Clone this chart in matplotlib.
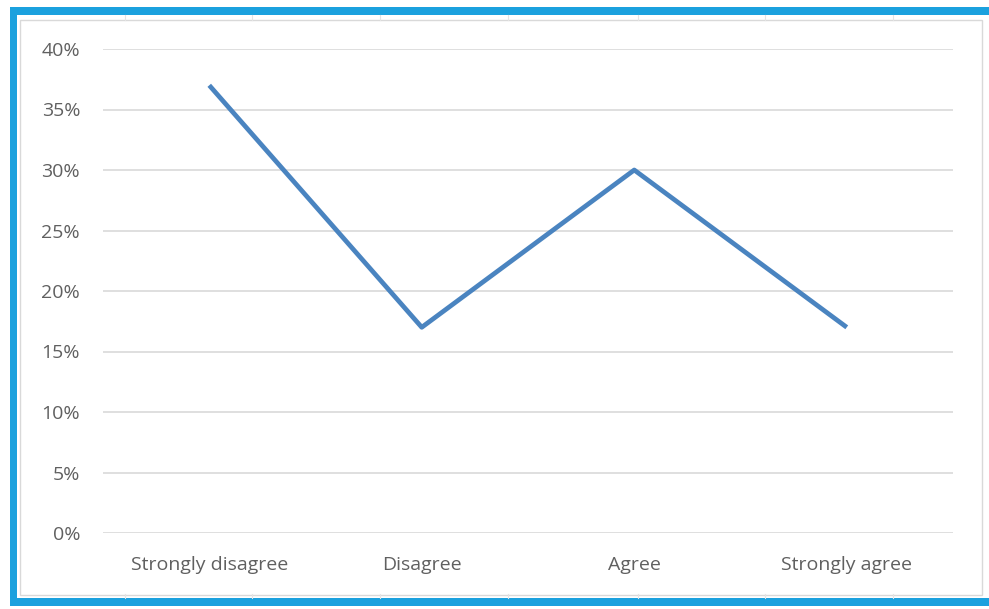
import matplotlib.pyplot as plt
from matplotlib.patches import Rectangle
from matplotlib.lines import Line2D
from matplotlib.ticker import PercentFormatter

categories = ["Strongly disagree", "Disagree", "Agree", "Strongly agree"]
shares = [0.37, 0.17, 0.30, 0.17]
y_ticks = [0.0, 0.05, 0.10, 0.15, 0.20, 0.25, 0.30, 0.35, 0.40]

plt.rcParams['font.family'] = ['Open Sans', 'DejaVu Sans']

fig = plt.figure(figsize=(9.89, 6.09), dpi=100)
W, H = 989, 609

# sheet cell lines peeking around the chart object
for x in [125, 252, 380, 508, 638, 765, 893]:
    fig.add_artist(Line2D([x / W, x / W], [1 - 20 / H, 1 - 15 / H], color='#e4e4e4', lw=0.8))
    fig.add_artist(Line2D([x / W, x / W], [1 - 598 / H, 1 - 594 / H], color='#e4e4e4', lw=0.8))

# chart object frame
fig.add_artist(Rectangle((20 / W, 1 - 595 / H), 962 / W, 575 / H, fill=False,
                         edgecolor='#d9d9d9', lw=1.0))

# blue highlight frame
blue = '#1ba1de'
fig.add_artist(Rectangle((10 / W, 1 - 15 / H), 1 - 10 / W, 8 / H, color=blue, lw=0))
fig.add_artist(Rectangle((10 / W, 1 - 606 / H), 1 - 10 / W, 8 / H, color=blue, lw=0))
fig.add_artist(Rectangle((10 / W, 1 - 606 / H), 7 / W, 599 / H, color=blue, lw=0))

ax = fig.add_axes([103 / W, 1 - 533 / H, 850 / W, 484 / H])
ax.plot(range(len(categories)), shares, color='#4a84c0', lw=3.4, solid_capstyle='butt')

ax.set_xlim(-0.5, len(categories) - 0.5)
ax.set_ylim(0, 0.40)
ax.set_yticks(y_ticks)
ax.yaxis.set_major_formatter(PercentFormatter(1.0, decimals=0))
ax.set_xticks(range(len(categories)))
ax.set_xticklabels(categories)
ax.grid(axis='y', color='#d9d9d9', lw=1.2)
ax.set_axisbelow(True)
for s in ax.spines.values():
    s.set_visible(False)
ax.tick_params(axis='both', length=0, labelsize=14, labelcolor='#606060')
ax.tick_params(axis='y', pad=16.5)
ax.tick_params(axis='x', pad=16.5)

plt.savefig('out.png', dpi=100)
